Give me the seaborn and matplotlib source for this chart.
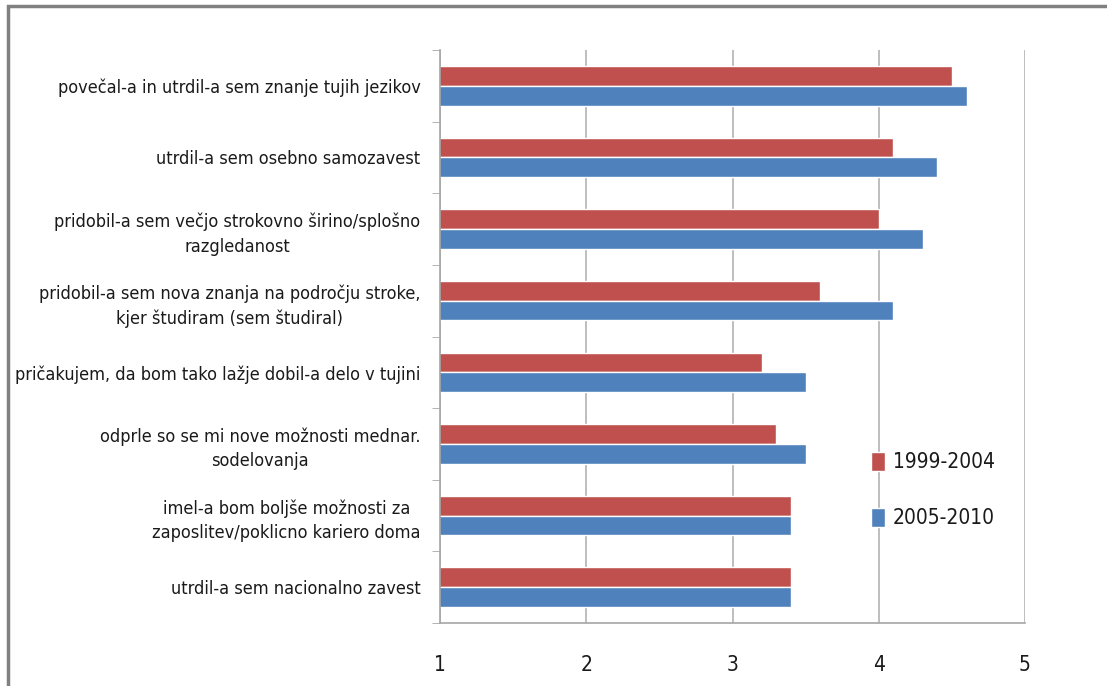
import pandas as pd
import matplotlib.pyplot as plt
import seaborn as sns
from matplotlib.patches import Rectangle

# podatki
kategorije = [
    "povečal-a in utrdil-a sem znanje tujih jezikov",
    "utrdil-a sem osebno samozavest",
    "pridobil-a sem večjo strokovno širino/splošno\nrazgledanost",
    "pridobil-a sem nova znanja na področju stroke,\nkjer študiram (sem študiral)",
    "pričakujem, da bom tako lažje dobil-a delo v tujini",
    "odprle so se mi nove možnosti mednar.\nsodelovanja",
    "imel-a bom boljše možnosti za\nzaposlitev/poklicno kariero doma",
    "utrdil-a sem nacionalno zavest",
]
obdobja = ["1999-2004", "2005-2010"]
vrednosti_1999_2004 = [4.5, 4.1, 4.0, 3.6, 3.2, 3.3, 3.4, 3.4]
vrednosti_2005_2010 = [4.6, 4.4, 4.3, 4.1, 3.5, 3.5, 3.4, 3.4]
x_ticks = [1, 2, 3, 4, 5]

df = pd.DataFrame({
    "kategorija": kategorije * 2,
    "obdobje": [obdobja[0]] * len(kategorije) + [obdobja[1]] * len(kategorije),
    "vrednost": vrednosti_1999_2004 + vrednosti_2005_2010,
})

sns.set_style("white")
plt.rcParams['font.family'] = ['DejaVu Sans']
plt.rcParams['font.stretch'] = 'condensed'
plt.rcParams['text.color'] = '#1a1a1a'
plt.rcParams['xtick.color'] = '#1a1a1a'
plt.rcParams['ytick.color'] = '#1a1a1a'

fig = plt.figure(figsize=(11.07, 6.86), dpi=100)
ax = fig.add_axes([440 / 1107, 1 - 623 / 686, 585 / 1107, 573 / 686])

sns.barplot(data=df, x="vrednost", y="kategorija", hue="obdobje", orient="h",
            palette=["#C0504D", "#4F81BD"], width=0.55, saturation=1,
            order=kategorije, hue_order=obdobja, ax=ax)

ax.set_xlim(1, 5)
ax.set_ylim(len(kategorije) - 0.5, -0.5)
ax.set_xticks(x_ticks)
ax.set_xticklabels([str(t) for t in x_ticks], fontsize=15)
ax.set_xlabel("")
ax.set_ylabel("")
ax.tick_params(axis="x", length=8, color="#a6a6a6", pad=15, width=1)
ax.tick_params(axis="y", length=0, pad=14, labelsize=13)
for lab in ax.get_yticklabels():
    lab.set_multialignment("center")
    lab.set_linespacing(1.45)
ax.set_yticks([i - 0.5 for i in range(len(kategorije) + 1)], minor=True)
ax.tick_params(axis="y", which="minor", length=6, color="#a6a6a6", left=True)
ax.grid(axis="x", color="#b3b3b3", linewidth=1.2)
ax.set_axisbelow(True)
for s in ["top", "right"]:
    ax.spines[s].set_visible(False)
for s in ["left", "bottom"]:
    ax.spines[s].set_color("#a6a6a6")
    ax.spines[s].set_linewidth(1.2)

handles, labels = ax.get_legend_handles_labels()
ax.legend(handles, labels, loc="upper left", bbox_to_anchor=(0.705, 0.332),
          frameon=False, fontsize=15, handlelength=0.65, handleheight=1.05,
          handletextpad=0.4, labelspacing=1.7)

# okvir slike
fig.patches.append(Rectangle((8 / 1107, -0.1), 1.2, 1 - 6 / 686 + 0.1,
                             transform=fig.transFigure, fill=False,
                             edgecolor="#808080", linewidth=2.5))

plt.savefig("out.png", dpi=100)
plt.close()
